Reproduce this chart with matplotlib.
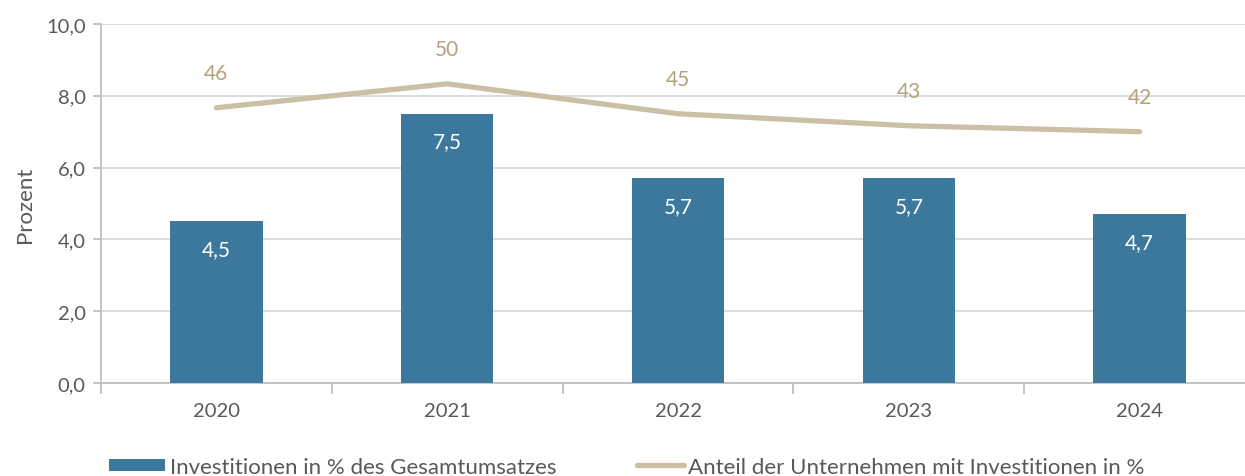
import matplotlib.pyplot as plt
from matplotlib.ticker import FuncFormatter
from matplotlib.patches import Patch
from matplotlib.lines import Line2D

plt.rcParams['font.family'] = ['Lato', 'DejaVu Sans']

years = ['2020', '2021', '2022', '2023', '2024']
invest_share = [4.5, 7.5, 5.7, 5.7, 4.7]      # Investitionen in % des Gesamtumsatzes
firms_share = [46, 50, 45, 43, 42]            # Anteil der Unternehmen mit Investitionen in %

bar_col = '#3c789c'
line_col = '#cbc0a6'
line_txt = '#b4a27c'
grey_txt = '#595959'
axis_col = '#bfbfbf'

fig = plt.figure(figsize=(12.45, 4.77), dpi=100)
# axis runs past the right edge of the picture, like the original crop
ax = fig.add_axes([101 / 1245, 1 - 384 / 477, 1154 / 1245, 359 / 477])

x = list(range(len(years)))
bars = ax.bar(x, invest_share, width=0.4, color=bar_col, zorder=3)
ax.set_xlim(-0.5, 4.5)
ax.set_ylim(0, 10)
ax.set_yticks([0, 2, 4, 6, 8, 10])
ax.yaxis.set_major_formatter(FuncFormatter(lambda v, p: f'{v:.1f}'.replace('.', ',')))
ax.grid(axis='y', color='#d9d9d9', linewidth=1.3, zorder=0)
ax.set_axisbelow(True)

for s in ['top', 'right']:
    ax.spines[s].set_visible(False)
ax.spines['left'].set_color(axis_col)
ax.spines['bottom'].set_color(axis_col)
ax.spines['left'].set_linewidth(1.3)
ax.spines['bottom'].set_linewidth(1.3)

ax.tick_params(axis='y', length=6, color=axis_col, width=1.3, labelsize=14.5, labelcolor=grey_txt, pad=5)
ax.set_xticks(x)
ax.set_xticklabels(years)
ax.tick_params(axis='x', length=0, labelsize=14.5, labelcolor=grey_txt, pad=14)
ax.set_xticks([i - 0.5 for i in range(len(years) + 1)], minor=True)
ax.tick_params(axis='x', which='minor', length=8, color=axis_col, width=1.3)
ax.set_ylabel('Prozent', fontsize=16, color=grey_txt, labelpad=8)

for b, v in zip(bars, invest_share):
    ax.annotate(f'{v:.1f}'.replace('.', ','), (b.get_x() + b.get_width() / 2, v),
                xytext=(0, -20), textcoords='offset points', ha='center', va='center',
                color='white', fontsize=15, zorder=4)

ax2 = ax.twinx()
ax2.set_ylim(0, 60)
ax2.axis('off')
ax2.plot(x, firms_share, color=line_col, linewidth=3.8, solid_capstyle='round',
         solid_joinstyle='round', zorder=5)
for xi, v in zip(x, firms_share):
    ax2.annotate(str(v), (xi, v), xytext=(0, 25), textcoords='offset points',
                 ha='center', va='center', color=line_txt, fontsize=15)

h1 = Patch(facecolor=bar_col)
h2 = Line2D([0], [0], color=line_col, linewidth=3.8, solid_capstyle='round')
fig.legend([h1], ['Investitionen in % des Gesamtumsatzes'], loc='center left',
           bbox_to_anchor=(109 / 1245, 1 - 468 / 477), frameon=False, fontsize=16,
           handlelength=2.5, handleheight=0.5, handletextpad=0.25, labelcolor=grey_txt,
           borderaxespad=0, borderpad=0)
fig.legend([h2], ['Anteil der Unternehmen mit Investitionen in %'], loc='center left',
           bbox_to_anchor=(637 / 1245, 1 - 468 / 477), frameon=False, fontsize=16,
           handlelength=2.1, handletextpad=0.2, labelcolor=grey_txt,
           borderaxespad=0, borderpad=0)

fig.savefig('out.png', dpi=100)
